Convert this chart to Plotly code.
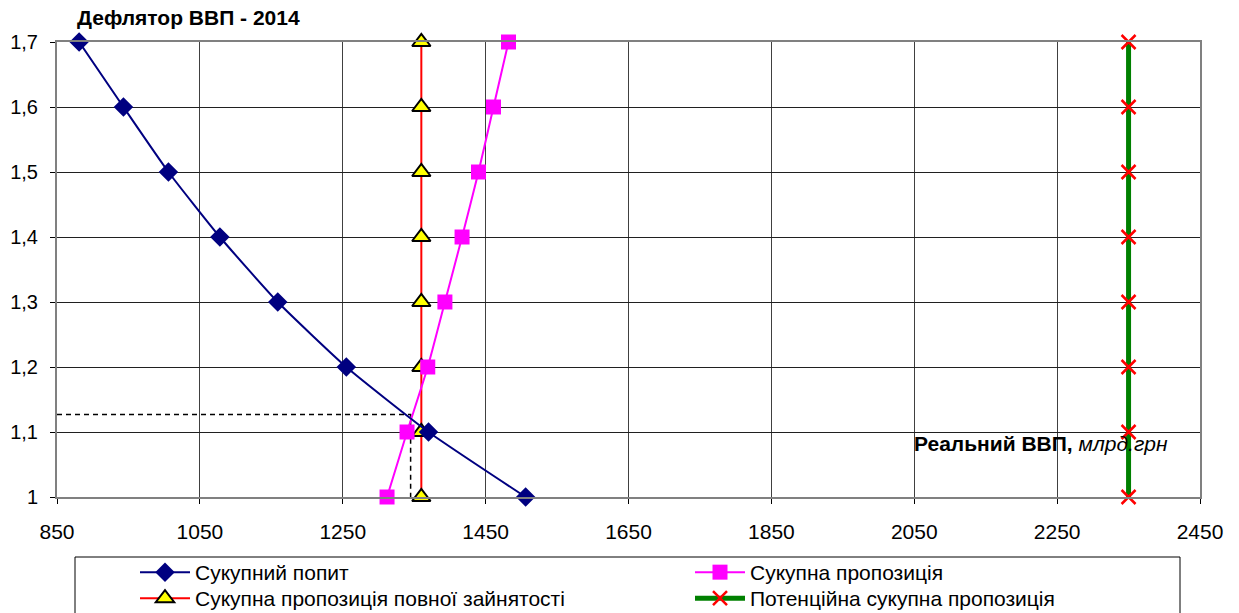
import plotly.graph_objects as go

# ---- data ----
deflator = [1.0, 1.1, 1.2, 1.3, 1.4, 1.5, 1.6, 1.7]
y_tick_vals = [1.0, 1.1, 1.2, 1.3, 1.4, 1.5, 1.6, 1.7]
y_tick_text = ["1", "1,1", "1,2", "1,3", "1,4", "1,5", "1,6", "1,7"]
x_tick_vals = [850, 1050, 1250, 1450, 1650, 1850, 2050, 2250, 2450]

aggregate_demand = [1506, 1370, 1255, 1159, 1078, 1006, 943, 881]
aggregate_supply = [1312, 1340, 1369, 1393, 1417, 1440, 1461, 1482]
full_employment = [1360, 1360, 1360, 1360, 1360, 1360, 1360, 1360]
potential_supply = [2350, 2350, 2350, 2350, 2350, 2350, 2350, 2350]

eq_x = 1345
eq_y = 1.127

names = ["Сукупний попит", "Сукупна пропозиція",
         "Сукупна пропозиція повної зайнятості", "Потенційна сукупна пропозиція"]

FONT = "Liberation Sans, Arial, sans-serif"
FS = 21

fig = go.Figure()

# dashed equilibrium guides
fig.add_trace(go.Scatter(x=[850, eq_x, eq_x], y=[eq_y, eq_y, 1.0], mode="lines",
                         line=dict(color="black", width=1.5, dash="5px,4px"),
                         showlegend=False, hoverinfo="skip", cliponaxis=False))

fig.add_trace(go.Scatter(x=potential_supply, y=deflator, name=names[3], mode="lines+markers",
                         line=dict(color="#008000", width=5),
                         marker=dict(symbol="x-thin", size=14, line=dict(color="#FF0000", width=2.5), color="#FF0000"),
                         cliponaxis=False, legend="legend2", legendrank=2))
fig.add_trace(go.Scatter(x=full_employment, y=deflator, name=names[2], mode="lines+markers",
                         line=dict(color="#FF0000", width=2),
                         marker=dict(symbol="triangle-up", size=16, color="#FFFF00", line=dict(color="black", width=2)),
                         cliponaxis=False, legend="legend2", legendrank=1))
fig.add_trace(go.Scatter(x=aggregate_supply, y=deflator, name=names[1], mode="lines+markers",
                         line=dict(color="#FF00FF", width=2, shape="spline", smoothing=0.5),
                         marker=dict(symbol="square", size=15, color="#FF00FF"),
                         cliponaxis=False, legend="legend", legendrank=2))
fig.add_trace(go.Scatter(x=aggregate_demand, y=deflator, name=names[0], mode="lines+markers",
                         line=dict(color="#000080", width=2, shape="spline", smoothing=0.5),
                         marker=dict(symbol="diamond", size=15, color="#000080"),
                         cliponaxis=False, legend="legend", legendrank=1))

L, R, T, B = 57, 39, 42, 116
W, H = 1239, 613
ph = H - T - B
pw = W - L - R

def px_to_px(x):
    return (x - L) / pw

def py_to_py(y):
    return (H - B - y) / ph

legend_common = dict(orientation="h", x=px_to_px(135), xanchor="left", yanchor="top",
                     entrywidth=490, entrywidthmode="pixels", traceorder="normal",
                     font=dict(size=FS), bgcolor="rgba(0,0,0,0)", borderwidth=0, itemwidth=50)

fig.update_layout(
    width=W, height=H,
    margin=dict(l=L, r=R, t=T, b=B, autoexpand=False),
    plot_bgcolor="white", paper_bgcolor="white",
    font=dict(family=FONT, size=FS, color="black"),
    xaxis=dict(range=[850, 2450], tickvals=x_tick_vals, showgrid=True, gridcolor="#404040", gridwidth=1,
               showline=True, linecolor="#808080", linewidth=2, mirror=True,
               ticks="outside", ticklen=5, tickcolor="black", zeroline=False,
               ticklabelstandoff=10,
               tickfont=dict(size=FS), fixedrange=True),
    yaxis=dict(range=[1.0, 1.7], tickvals=y_tick_vals, ticktext=y_tick_text, showgrid=True,
               gridcolor="#202020", gridwidth=1,
               showline=True, linecolor="#808080", linewidth=2, mirror=True,
               ticks="outside", ticklen=5, tickcolor="black", zeroline=False,
               ticklabelstandoff=8,
               tickfont=dict(size=FS - 1), fixedrange=True),
    legend=dict(legend_common, y=py_to_py(552)),
    legend2=dict(legend_common, y=py_to_py(578)),
    showlegend=True,
)

# legend frame
fig.add_shape(type="rect", xref="paper", yref="paper",
              x0=px_to_px(75), x1=px_to_px(1180), y0=py_to_py(640), y1=py_to_py(557),
              line=dict(color="black", width=1), fillcolor="rgba(0,0,0,0)", layer="above")

# chart title
fig.add_annotation(text="<b>Дефлятор ВВП - 2014</b>", xref="paper", yref="paper",
                   x=px_to_px(75), y=py_to_py(18), xanchor="left", yanchor="middle",
                   showarrow=False, font=dict(size=FS))

# x-axis label
fig.add_annotation(text="<b>Реальний ВВП,</b> <i>млрд.грн</i>", xref="x", yref="y",
                   x=2408, y=1.083, xanchor="right", yanchor="middle",
                   showarrow=False, font=dict(size=FS))

fig.write_html("out.html")
